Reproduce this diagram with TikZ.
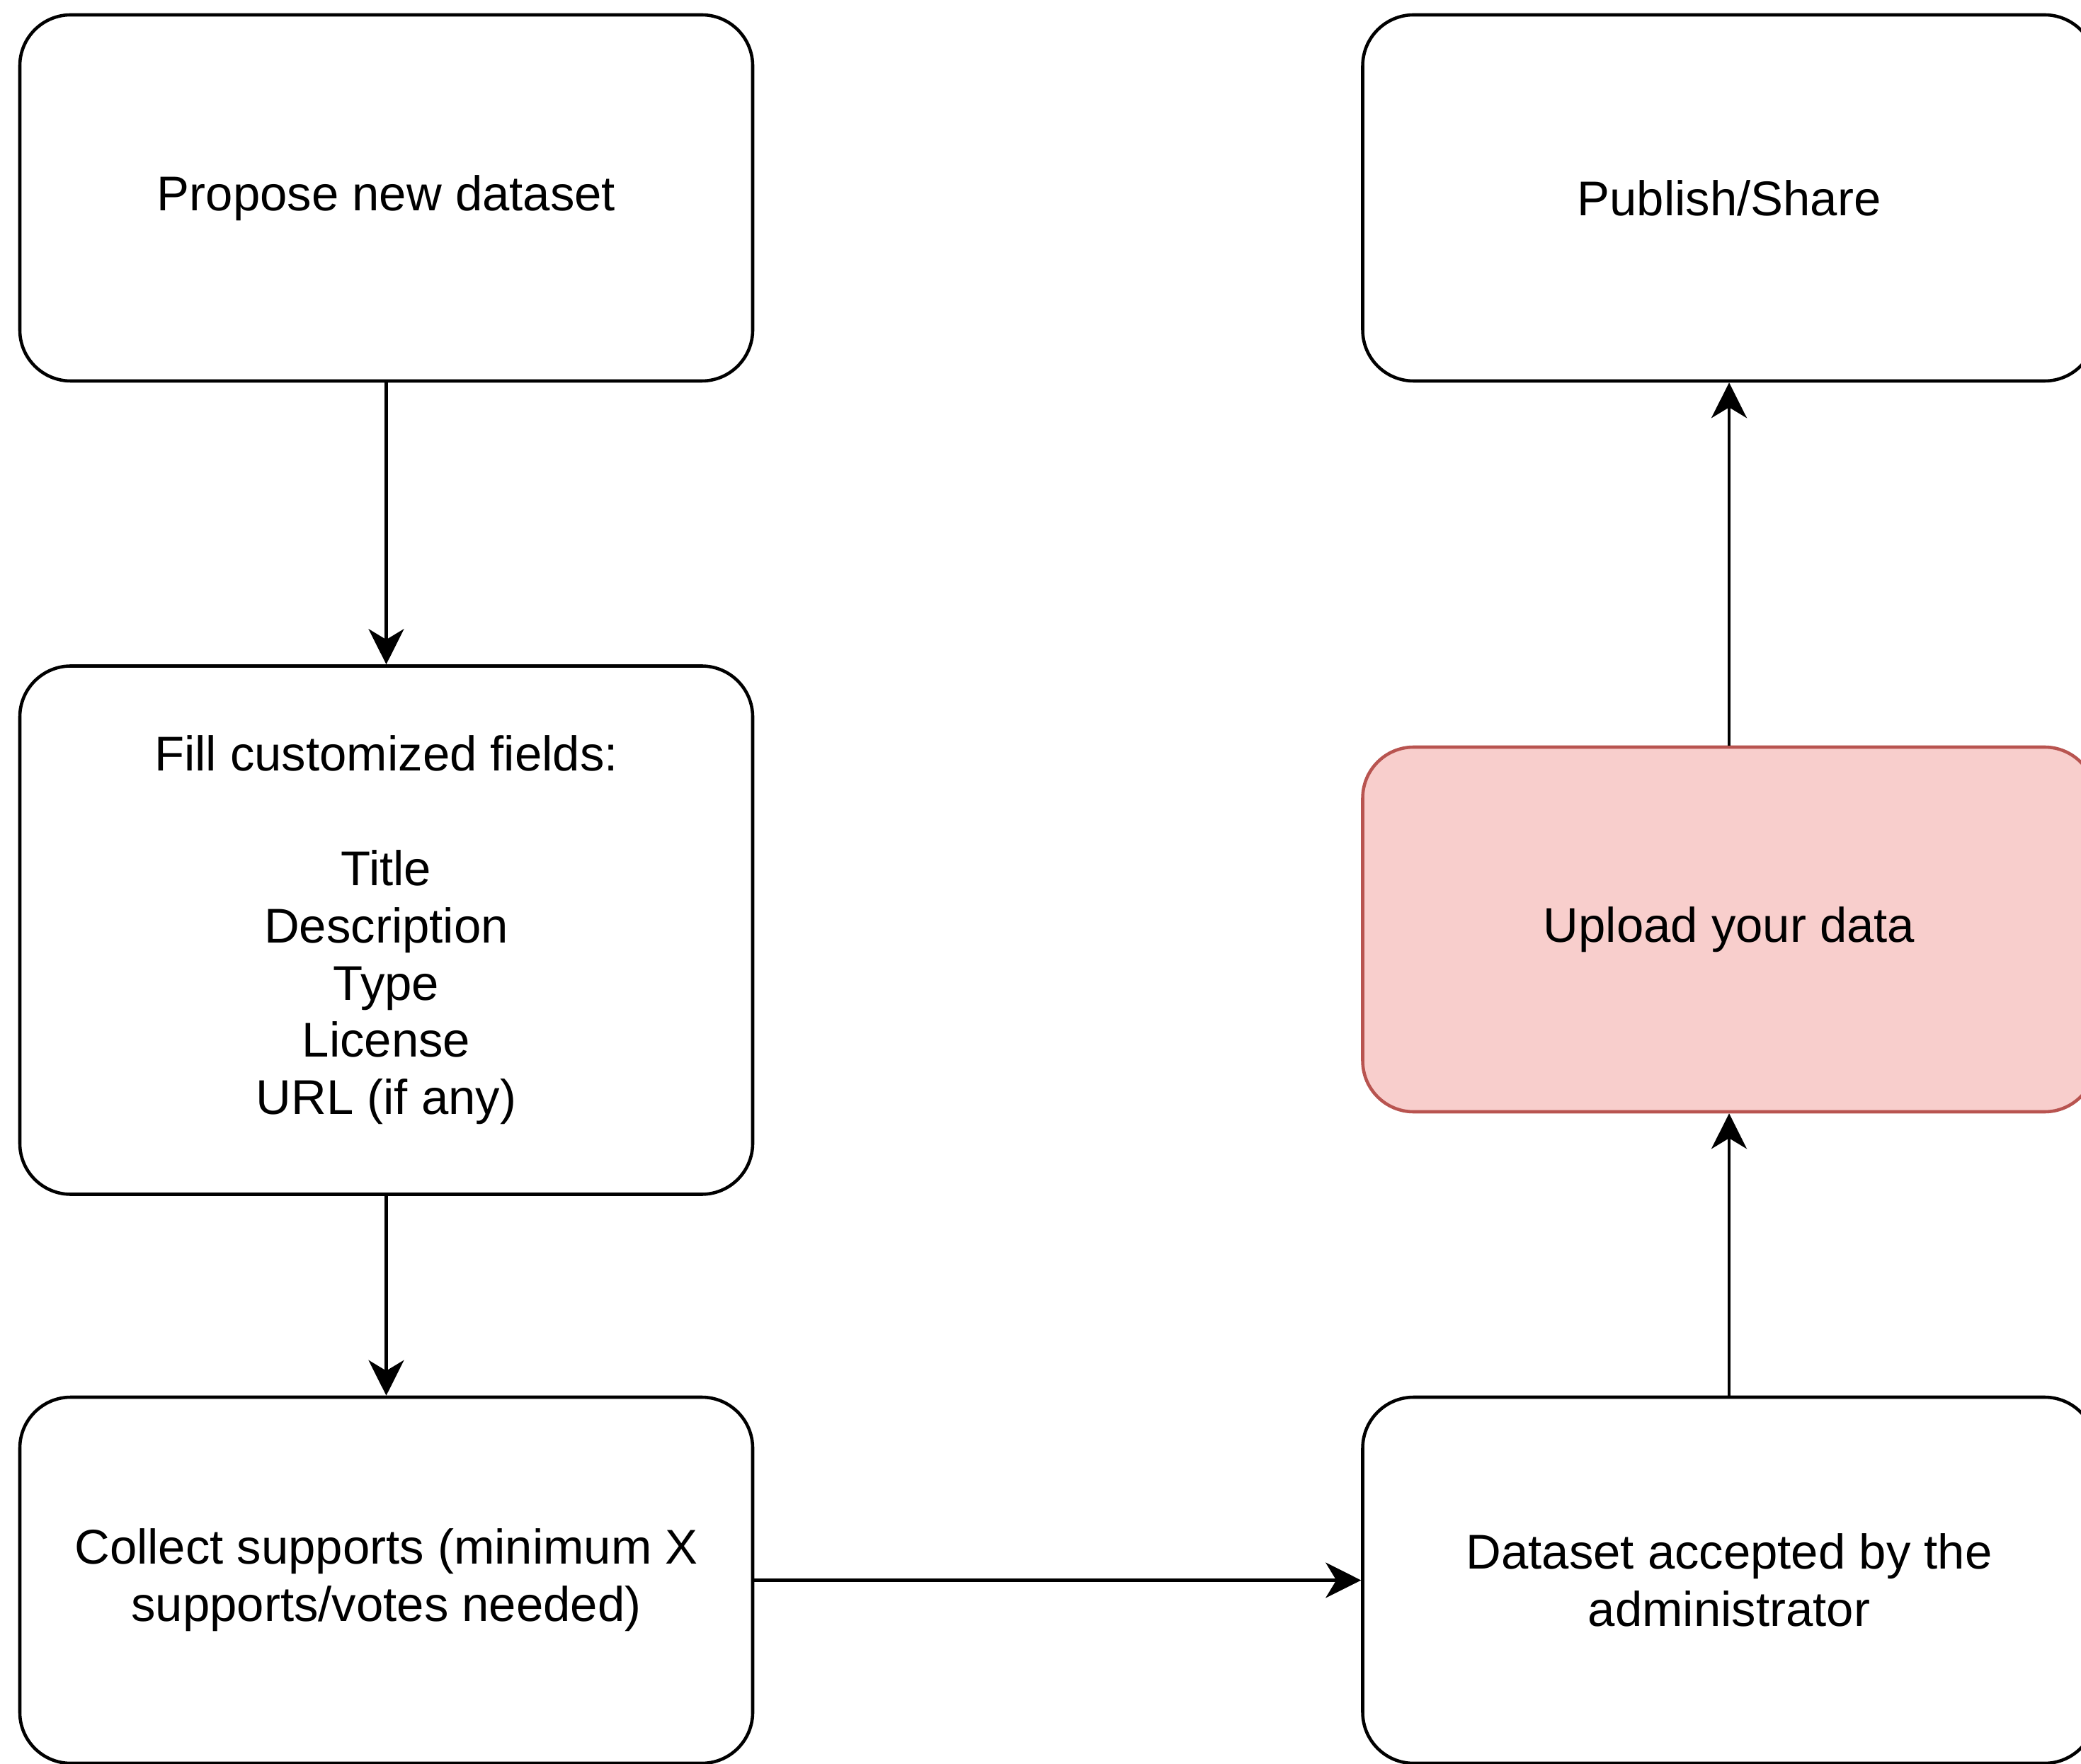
\documentclass[tikz,border=0pt]{standalone}
\usepackage{fontspec}
\setmainfont{Liberation Sans}
\usetikzlibrary{arrows.meta,positioning}
\definecolor{upfill}{HTML}{F8CECC}
\definecolor{updraw}{HTML}{B85450}
\tikzset{
  stepbox/.style={draw=black, line width=1.3pt, rounded corners=0.72cm, align=center,
    minimum width=10.35cm, minimum height=5.17cm, inner sep=0pt,
    font=\fontsize{19.6pt}{23pt}\selectfont},
  upbox/.style={stepbox, draw=updraw, fill=upfill},
  arrow/.style={-{Stealth[length=0.5cm, width=0.5cm, inset=0.15cm]}, line width=1.2pt}
}
\begin{document}
\begin{tikzpicture}[x=1cm,y=1cm]
  \clip (0,0) rectangle (29.39,24.90);
  \node[stepbox] (propose) at (5.455,22.105) {Propose new dataset};
  \node[stepbox, minimum height=7.46cm] (fill) at (5.455,11.765)
    {Fill customized fields:\\ \\Title\\Description\\Type\\License\\URL (if any)};
  \node[stepbox] (collect) at (5.455,2.585)
    {Collect supports (minimum X\\supports/votes needed)};
  \node[stepbox] (accepted) at (24.42,2.585)
    {Dataset accepted by the\\administrator};
  \node[upbox, minimum height=5.15cm] (upload) at (24.42,11.775) {Upload your data};
  \node[stepbox] (publish) at (24.42,22.105) {Publish/Share};

  \draw[arrow] (propose) -- (fill);
  \draw[arrow] (fill) -- (collect);
  \draw[arrow] (collect) -- (accepted);
  \draw[arrow] (accepted) -- (upload);
  \draw[arrow] (upload) -- (publish);
\end{tikzpicture}
\end{document}
